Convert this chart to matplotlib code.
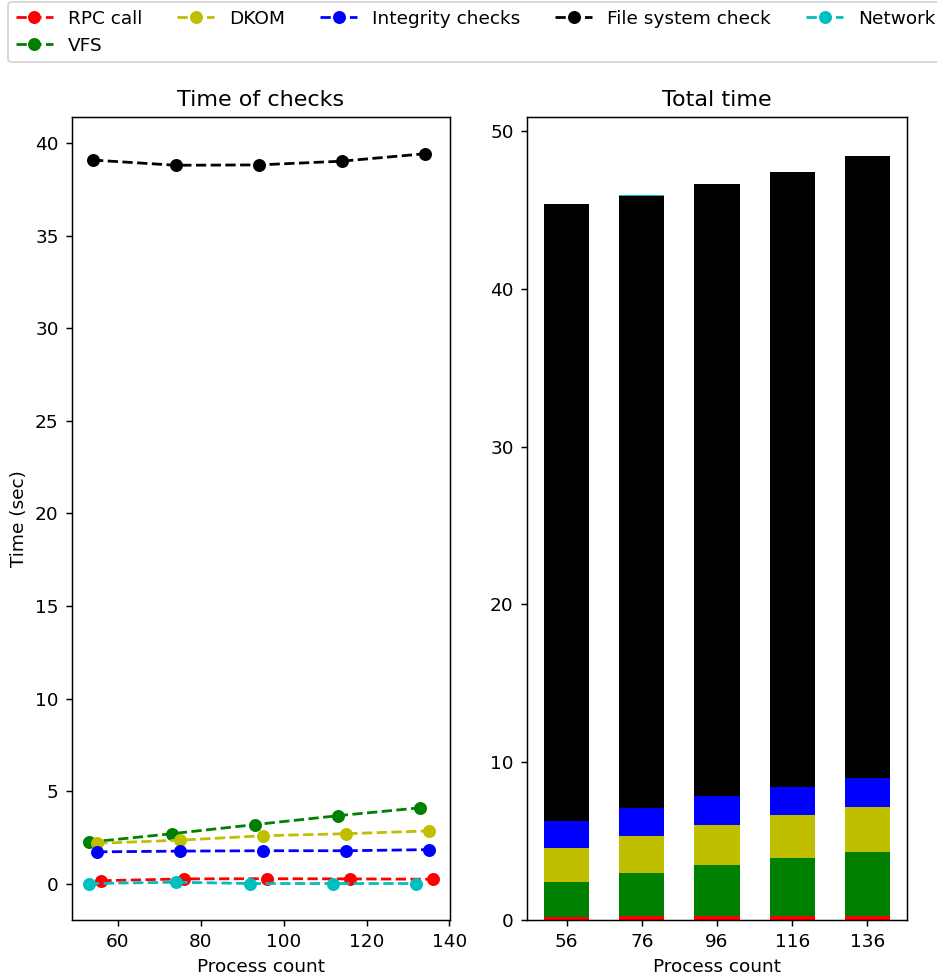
import matplotlib
matplotlib.use("Agg")
import matplotlib.pyplot as plt
import numpy as np

labels = ["RPC call", "VFS", "DKOM", "Integrity checks", "File system check", "Network"]
colors = ["r", "g", "y", "b", "k", "c"]

process_counts = ["56", "76", "96", "116", "136"]

# x positions (slightly shifted per series in the line chart)
x_rpc = [56, 76, 96, 116, 136]
x_vfs = [53, 73, 93, 113, 133]
x_dkom = [55, 75, 95, 115, 135]
x_integrity = [55, 75, 95, 115, 135]
x_fs = [54, 74, 94, 114, 134]
x_network = [53, 74, 92, 112, 132]

rpc = [0.16, 0.26, 0.27, 0.26, 0.24]
vfs = [2.24, 2.70, 3.19, 3.67, 4.10]
dkom = [2.18, 2.35, 2.59, 2.70, 2.85]
integrity = [1.72, 1.76, 1.78, 1.78, 1.84]
fs = [39.08, 38.80, 38.82, 39.02, 39.42]
network = [0.01, 0.08, 0.01, 0.01, 0.01]

xs = [x_rpc, x_vfs, x_dkom, x_integrity, x_fs, x_network]
ys = [rpc, vfs, dkom, integrity, fs, network]

W, H = 937, 978
DPI = 133.333
fig = plt.figure(figsize=(W / DPI, H / DPI), dpi=DPI)
ax1 = fig.add_axes([71.7/W, 1-920/H, (450-71.7)/W, (920-117.3)/H])
ax2 = fig.add_axes([526.7/W, 1-920/H, (907.3-526.7)/W, (920-117.3)/H])

for x, y, c, lab in zip(xs, ys, colors, labels):
    ax1.plot(x, y, linestyle="--", marker="o", color=c, label=lab)
ax1.set_title("Time of checks")
ax1.set_xlabel("Process count")
ax1.set_ylabel("Time (sec)")

pos = np.arange(len(process_counts))
bottom = np.zeros(len(process_counts))
for y, c, lab in zip(ys, colors, labels):
    ax2.bar(pos, y, width=0.6, bottom=bottom, color=c, label=lab)
    bottom += np.array(y)
ax2.set_xticks(pos)
ax2.set_xticklabels(process_counts)
ax2.set_title("Total time")
ax2.set_xlabel("Process count")

handles, labs = ax1.get_legend_handles_labels()
fig.legend(handles, labs, loc="upper left", bbox_to_anchor=(-1/W, 1 + 7/H),
           ncol=5, columnspacing=1.9)

fig.savefig("out.png", dpi=DPI)
